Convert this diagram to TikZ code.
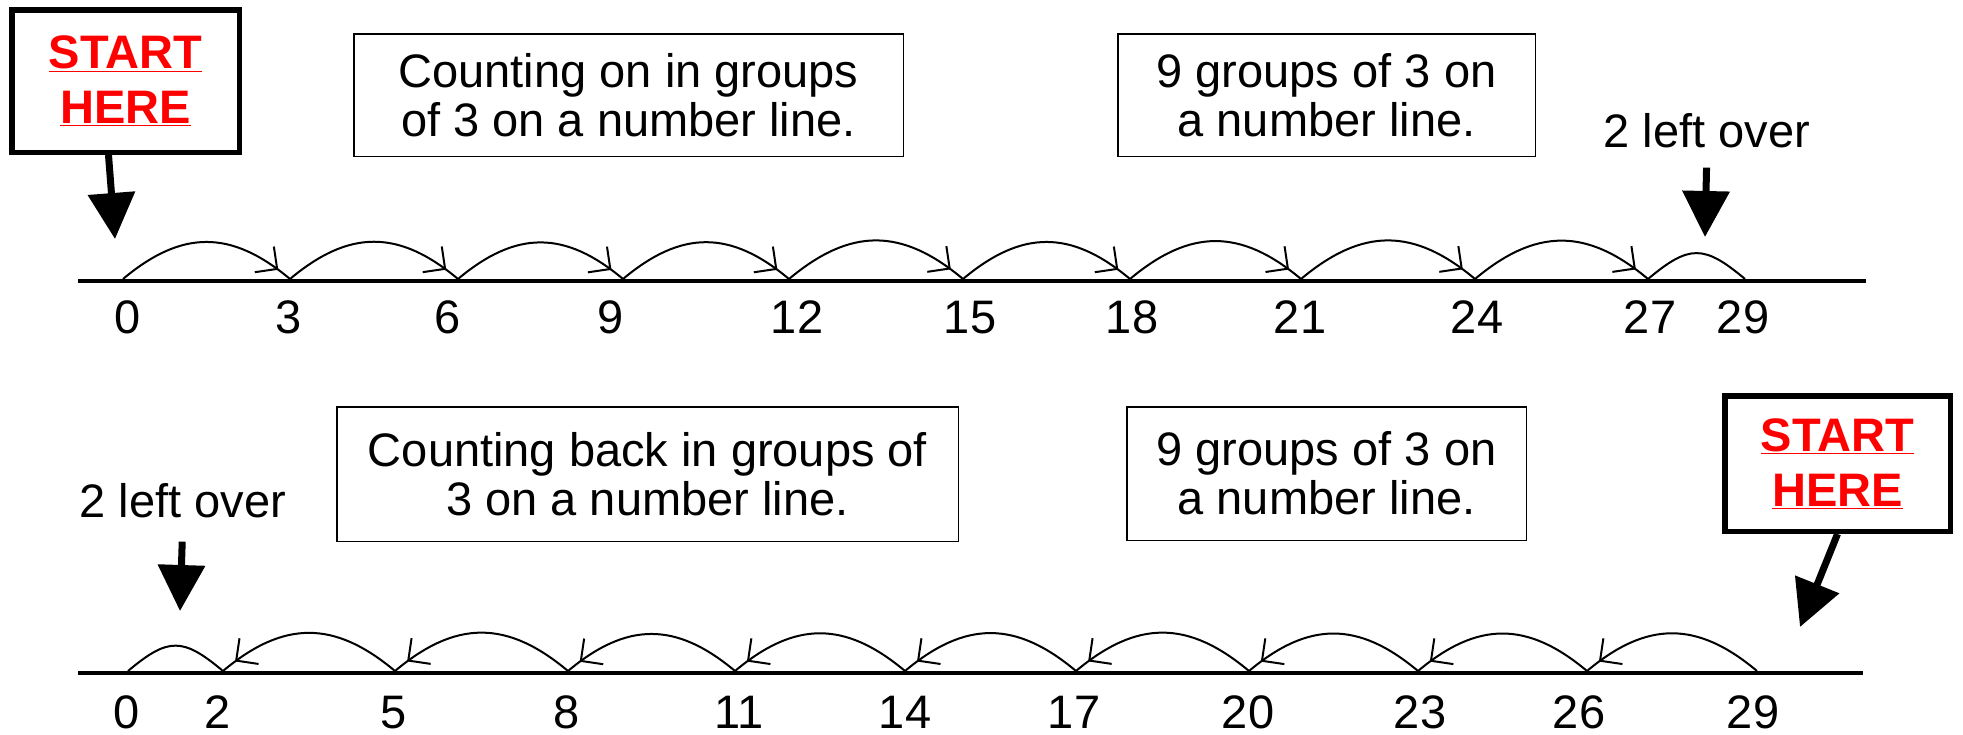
\documentclass[tikz,border=0pt]{standalone}
\usepackage{fontspec}
\setmainfont{Liberation Sans}
\usetikzlibrary{arrows.meta,decorations.markings,positioning}

\begin{document}
\begin{tikzpicture}[
        x=1pt, y=-1pt,
        every node/.style={font=\fontsize{47}{49}\selectfont},
        txtbox/.style={draw, line width=1.5pt, align=center, inner sep=0pt},
        startbox/.style={
            draw, line width=5.5pt, align=center, inner sep=0pt,
            text=red, font=\fontsize{47}{55}\selectfont\bfseries
        },
        num/.style={anchor=base, inner sep=0pt},
        numline/.style={line width=4pt},
        bigarrow/.style={line width=7pt, -{Triangle[length=46pt,width=46pt]}},
        hopshort/.style={line width=2pt, out=40, in=140, looseness=1.42},
        hopon/.style={
            line width=2pt, out=40, in=140, looseness=1.18,
            postaction={decorate},
            decoration={markings, mark=at position 0.92 with {\arrow{Straight Barb[length=16pt,width=32pt]}}}
        },
        hopback/.style={hopon, out=140, in=40}
      ]

  \useasboundingbox (0,0) rectangle (1963,734);

  % counting on
  \node   (start1) [startbox,minimum width=227.5pt,minimum height=142.5pt] at (125.5,81) {\underline{START}\\\underline{HERE}};
  \node   (onbox) [txtbox,minimum width=549.5pt,minimum height=122.5pt] at (628.5,95) {Counting on in groups\\of 3 on a number line.};
  \node   (grpbox1) [txtbox,minimum width=417.5pt,minimum height=122.5pt] at (1326.5,95) {9 groups of 3 on\\a number line.};
  \node   (left1) [num] at (1707,147) {2 left over};

  \coordinate (topL) at (78,281);
  \coordinate (topR) at (1866,281);
  \draw[numline] (topL) -- (topR);

  \foreach \n/\x/\lx in {0/123/128, 3/290/289, 6/458/448, 9/623/611, 12/789/797, 15/963/970,
                         18/1130/1132, 21/1301/1300, 24/1475/1477, 27/1648/1650, 29/1745/1743}{
    \coordinate (a\n) at (\x,279);
    \node (na\n) [num] at (\lx,333) {\n};
  }
  \foreach \p/\q in {0/3, 3/6, 6/9, 9/12, 12/15, 15/18, 18/21, 21/24, 24/27}
    \draw[hopon] (a\p) to (a\q);
  \draw[hopshort] (a27) to (a29);

  \coordinate (go1) at (115,239);
  \draw[bigarrow] ([xshift=-17pt]start1.south) -- (go1);
  \coordinate (lo1) at (1705,237);
  \draw[bigarrow, shorten <=20pt] (left1.south) -- (lo1);

  % counting back
  \node   (start2) [startbox,minimum width=225.5pt,minimum height=135.5pt] at (1837.5,463.5) {\underline{START}\\\underline{HERE}};
  \node   (backbox) [txtbox,minimum width=621.5pt,minimum height=134.5pt] at (647.5,474) {Counting back in groups of\\3 on a number line.};
  \node   (grpbox2) [txtbox,minimum width=399.5pt,minimum height=133.5pt] at (1326.5,473.5) {9 groups of 3 on\\a number line.};
  \node   (left2) [num] at (183,517) {2 left over};

  \coordinate (botL) at (78,673);
  \coordinate (botR) at (1863,673);
  \draw[numline] (botL) -- (botR);

  \foreach \n/\x/\lx in {0/128/127, 2/223/218, 5/395/394, 8/568/567, 11/735/739, 14/905/905,
                         17/1076/1074, 20/1249/1248, 23/1418/1420, 26/1587/1579, 29/1757/1753}{
    \coordinate (b\n) at (\x,671);
    \node (nb\n) [num] at (\lx,728) {\n};
  }
  \foreach \p/\q in {29/26, 26/23, 23/20, 20/17, 17/14, 14/11, 11/8, 8/5, 5/2}
    \draw[hopback] (b\p) to (b\q);
  \draw[hopshort] (b0) to (b2);

  \coordinate (go2) at (1800,627);
  \draw[bigarrow] (start2.south) -- (go2);
  \coordinate (lo2) at (180,611);
  \draw[bigarrow, shorten <=24pt] (left2.south) -- (lo2);

\end{tikzpicture}
\end{document}
